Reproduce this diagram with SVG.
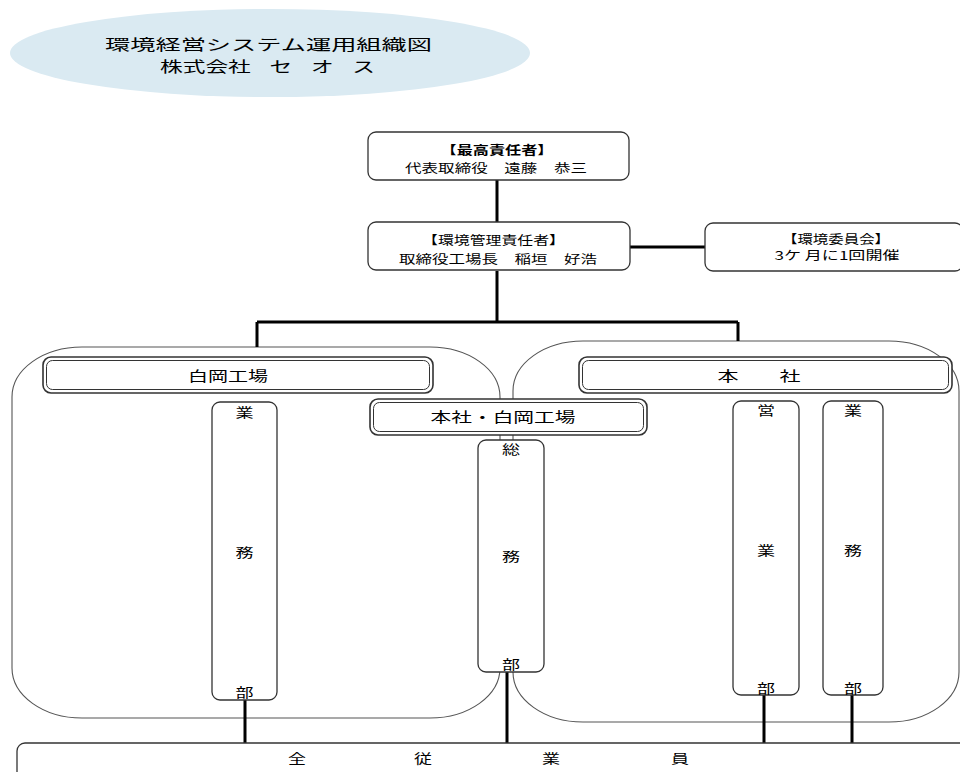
<svg xmlns="http://www.w3.org/2000/svg" width="960" height="772" viewBox="0 0 960 772">
<style>
text{font-family:"Noto Sans CJK JP","Noto Sans CJK SC",sans-serif;fill:#000;text-anchor:middle}
.box{fill:#fff;stroke:#333;stroke-width:1.3}
.cont{fill:#fff;stroke:#555;stroke-width:1.1}
.dbl{fill:#fff;stroke:#333;stroke-width:1.6}
.dbli{fill:none;stroke:#333;stroke-width:1}
.conn{fill:none;stroke:#000;stroke-width:3}
.t12{font-size:12px}
.t13{font-size:13px}
.t14{font-size:14px}
.t15{font-size:15px}
</style>
<rect width="960" height="772" fill="#fff"/>
<g id="title">
<ellipse cx="270" cy="53" rx="260" ry="44" fill="#daeaf2"/>
<text class="t15" x="268.5" y="50" textLength="327" lengthAdjust="spacingAndGlyphs">環境経営システム運用組織図</text>
<text class="t15" x="267.5" y="72" textLength="215" lengthAdjust="spacingAndGlyphs" style="word-spacing:9px">株式会社 セ オ ス</text>
</g>
<g id="containers">
<rect id="shiraoka-area" class="cont" x="12" y="347" width="488" height="371" rx="70" ry="50"/>
<rect id="honsha-area" class="cont" x="513" y="341" width="446" height="381" rx="70" ry="50"/>
</g>
<g id="connectors">
<path class="conn" d="M497 180V222M630 247H705M497 271V322M257 322H738M257 322V347M738 322V341"/>
<path class="conn" d="M245 700V743M507 672V743M764 695V743M852 695V743"/>
</g>
<g id="top-manager">
<rect class="box" x="368" y="132" width="261" height="48" rx="8"/>
<text class="t12" x="497" y="155" font-weight="bold" textLength="113" lengthAdjust="spacingAndGlyphs">【最高責任者】</text>
<text class="t12" x="496" y="173" textLength="182" lengthAdjust="spacingAndGlyphs">代表取締役　遠藤　恭三</text>
</g>
<g id="env-manager">
<rect class="box" x="368" y="222" width="262" height="48" rx="8"/>
<text class="t12" x="493.5" y="245" textLength="143" lengthAdjust="spacingAndGlyphs">【環境管理責任者】</text>
<text class="t12" x="498" y="264" textLength="198" lengthAdjust="spacingAndGlyphs">取締役工場長　稲垣　好浩</text>
</g>
<g id="env-committee">
<rect class="box" x="705" y="223" width="258" height="48" rx="8"/>
<text class="t12" x="836" y="244" textLength="108" lengthAdjust="spacingAndGlyphs">【環境委員会】</text>
<text class="t12" x="837" y="260" textLength="125" lengthAdjust="spacingAndGlyphs">3ケ 月に1回開催</text>
</g>
<g id="shiraoka-header">
<rect class="dbl" x="43" y="357" width="390" height="36" rx="8"/>
<rect class="dbli" x="46.5" y="360.5" width="383" height="29" rx="6"/>
<text class="t14" x="228" y="381" textLength="80" lengthAdjust="spacingAndGlyphs">白岡工場</text>
</g>
<g id="honsha-header">
<rect class="dbl" x="579" y="357" width="373" height="36" rx="8"/>
<rect class="dbli" x="582.5" y="360.5" width="366" height="29" rx="6"/>
<text class="t14" x="728" y="381" textLength="21" lengthAdjust="spacingAndGlyphs">本</text>
<text class="t14" x="790" y="381" textLength="21" lengthAdjust="spacingAndGlyphs">社</text>
</g>
<g id="common-header">
<rect class="dbl" x="370" y="399" width="277" height="36" rx="8"/>
<rect class="dbli" x="373.5" y="402.5" width="270" height="29" rx="6"/>
<text class="t14" x="503" y="422" textLength="145" lengthAdjust="spacingAndGlyphs">本社・白岡工場</text>
</g>
<g id="gyomu-shiraoka">
<rect class="box" x="212" y="402" width="65" height="298" rx="8"/>
<text class="t13" x="244.5" y="417" textLength="18" lengthAdjust="spacingAndGlyphs">業</text>
<text class="t13" x="244.5" y="557" textLength="18" lengthAdjust="spacingAndGlyphs">務</text>
<text class="t13" x="244.5" y="697" textLength="18" lengthAdjust="spacingAndGlyphs">部</text>
</g>
<g id="somu">
<rect class="box" x="478" y="440" width="66" height="232" rx="8"/>
<text class="t13" x="511" y="454" textLength="18" lengthAdjust="spacingAndGlyphs">総</text>
<text class="t13" x="511" y="561" textLength="18" lengthAdjust="spacingAndGlyphs">務</text>
<text class="t13" x="511" y="669" textLength="18" lengthAdjust="spacingAndGlyphs">部</text>
</g>
<g id="eigyo">
<rect class="box" x="733" y="401" width="66" height="294" rx="8"/>
<text class="t13" x="766" y="415" textLength="18" lengthAdjust="spacingAndGlyphs">営</text>
<text class="t13" x="766" y="555" textLength="18" lengthAdjust="spacingAndGlyphs">業</text>
<text class="t13" x="766" y="693" textLength="18" lengthAdjust="spacingAndGlyphs">部</text>
</g>
<g id="gyomu-honsha">
<rect class="box" x="823" y="401" width="60" height="294" rx="8"/>
<text class="t13" x="853" y="415" textLength="18" lengthAdjust="spacingAndGlyphs">業</text>
<text class="t13" x="853" y="555" textLength="18" lengthAdjust="spacingAndGlyphs">務</text>
<text class="t13" x="853" y="693" textLength="18" lengthAdjust="spacingAndGlyphs">部</text>
</g>
<g id="all-employees">
<rect class="box" x="17" y="743" width="990" height="60" rx="8"/>
<text class="t13" x="297" y="763" textLength="18" lengthAdjust="spacingAndGlyphs">全</text>
<text class="t13" x="423" y="763" textLength="18" lengthAdjust="spacingAndGlyphs">従</text>
<text class="t13" x="551" y="763" textLength="18" lengthAdjust="spacingAndGlyphs">業</text>
<text class="t13" x="680" y="763" textLength="18" lengthAdjust="spacingAndGlyphs">員</text>
</g>
</svg>
